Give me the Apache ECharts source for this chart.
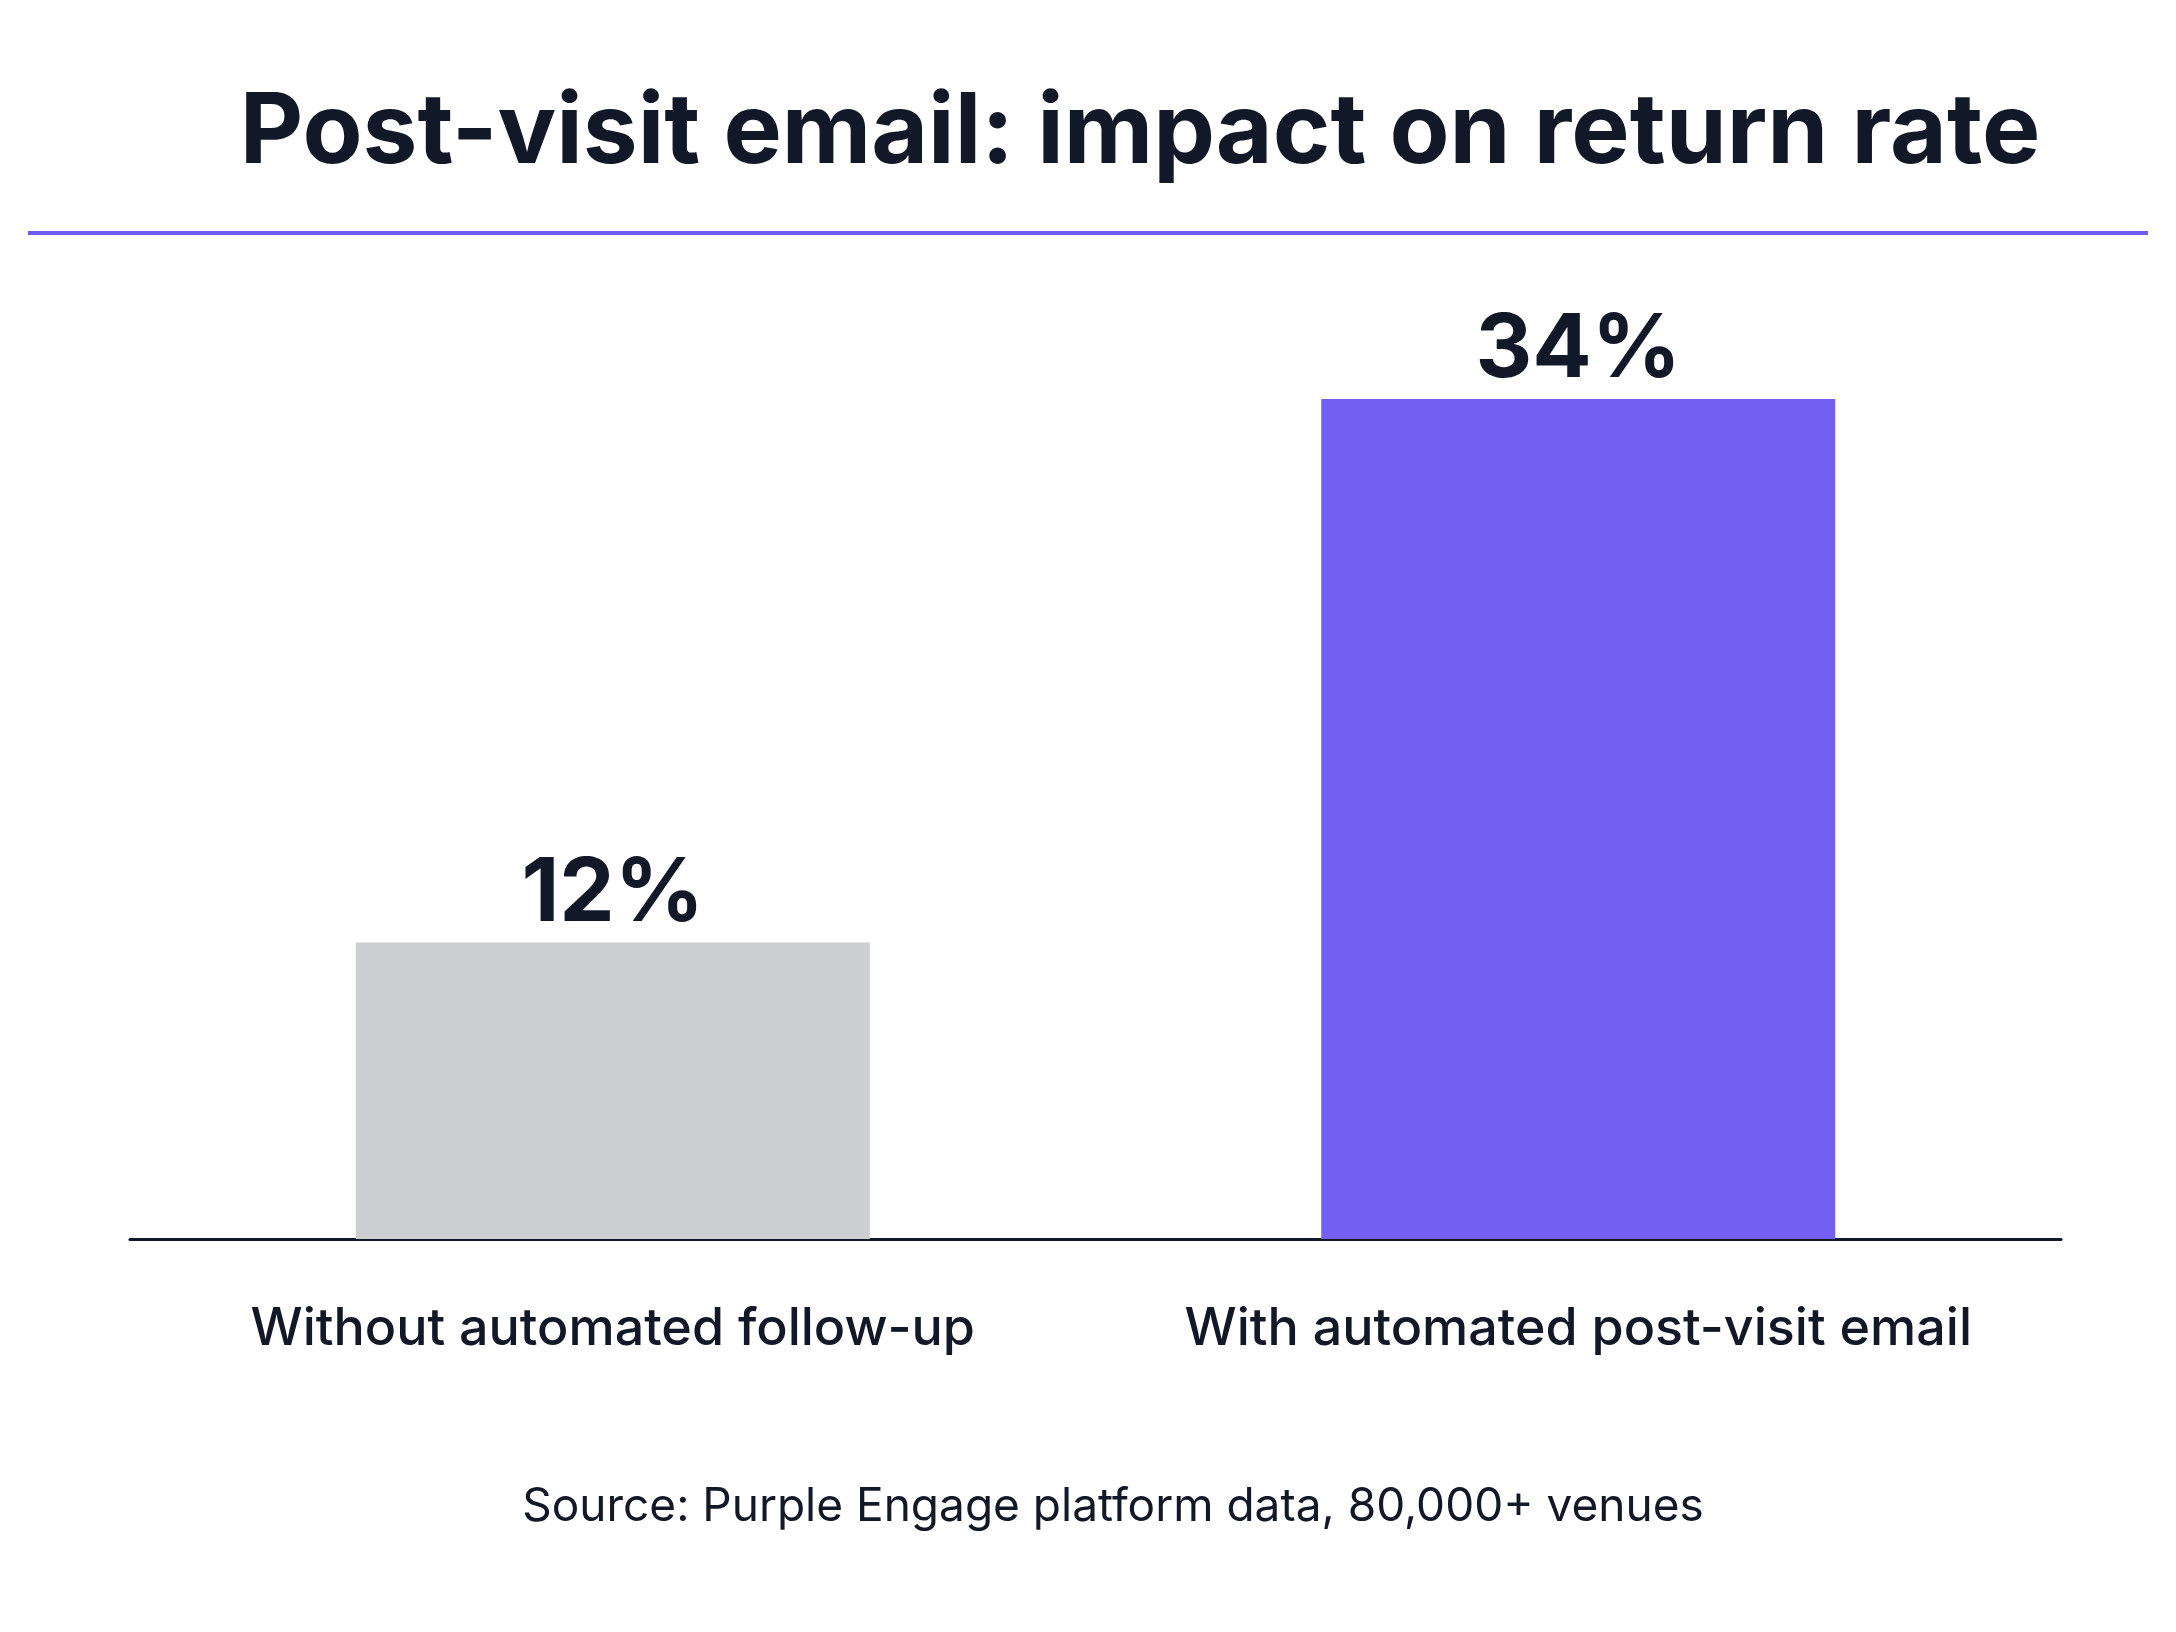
<!DOCTYPE html>
<html>
<head>
<meta charset="utf-8">
<script src="https://cdn.jsdelivr.net/npm/echarts@6/dist/echarts.min.js"></script>
<style>
  html, body { margin: 0; padding: 0; background: #ffffff; }
  #chart { width: 2176px; height: 1632px; }
</style>
</head>
<body>
<div id="chart"></div>
<script>
const categories = ["Without automated follow-up", "With automated post-visit email"]
const returnRates = [12, 34]
const barColors = ["#cdced1", "#7360f2"]
const titleText = "Post-visit email: impact on return rate"
const sourceText = "Source: Purple Engage platform data, 80,000+ venues"

const chart = echarts.init(document.getElementById("chart"))

const option = {
  backgroundColor: "#ffffff",
  textStyle: { fontFamily: "Inter, 'Noto Sans', sans-serif" },
  graphic: [
    {
      type: "text",
      x: 1140,
      y: 134,
      style: {
        text: titleText,
        align: "center",
        verticalAlign: "middle",
        fill: "#111827",
        font: "bold 98px Inter, sans-serif"
      }
    },
    {
      type: "line",
      shape: { x1: 28, y1: 233, x2: 2148, y2: 233 },
      style: { stroke: "#6e5cf0", lineWidth: 4 }
    },
    {
      type: "text",
      x: 1113,
      y: 1507,
      style: {
        text: sourceText,
        align: "center",
        verticalAlign: "middle",
        fill: "#111827",
        font: "400 46px Inter, sans-serif"
      }
    }
  ],
  grid: {
    left: 130,
    right: 115,
    top: 399,
    bottom: 1632 - 1239,
    containLabel: false
  },
  xAxis: {
    type: "category",
    data: categories,
    axisLine: { lineStyle: { color: "#111827", width: 3 } },
    axisTick: { show: false },
    axisLabel: {
      color: "#111827",
      fontSize: 52,
      fontWeight: 500,
      margin: 64,
      interval: 0
    }
  },
  yAxis: {
    type: "value",
    min: 0,
    max: 34,
    show: false,
    splitLine: { show: false }
  },
  series: [
    {
      type: "bar",
      barWidth: 514,
      data: returnRates.map((v, i) => ({ value: v, itemStyle: { color: barColors[i] } })),
      label: {
        show: true,
        position: "top",
        distance: 4,
        formatter: "{c}%",
        color: "#111827",
        fontSize: 88,
        fontWeight: "bold"
      }
    }
  ]
}

chart.setOption(option)
</script>
</body>
</html>
